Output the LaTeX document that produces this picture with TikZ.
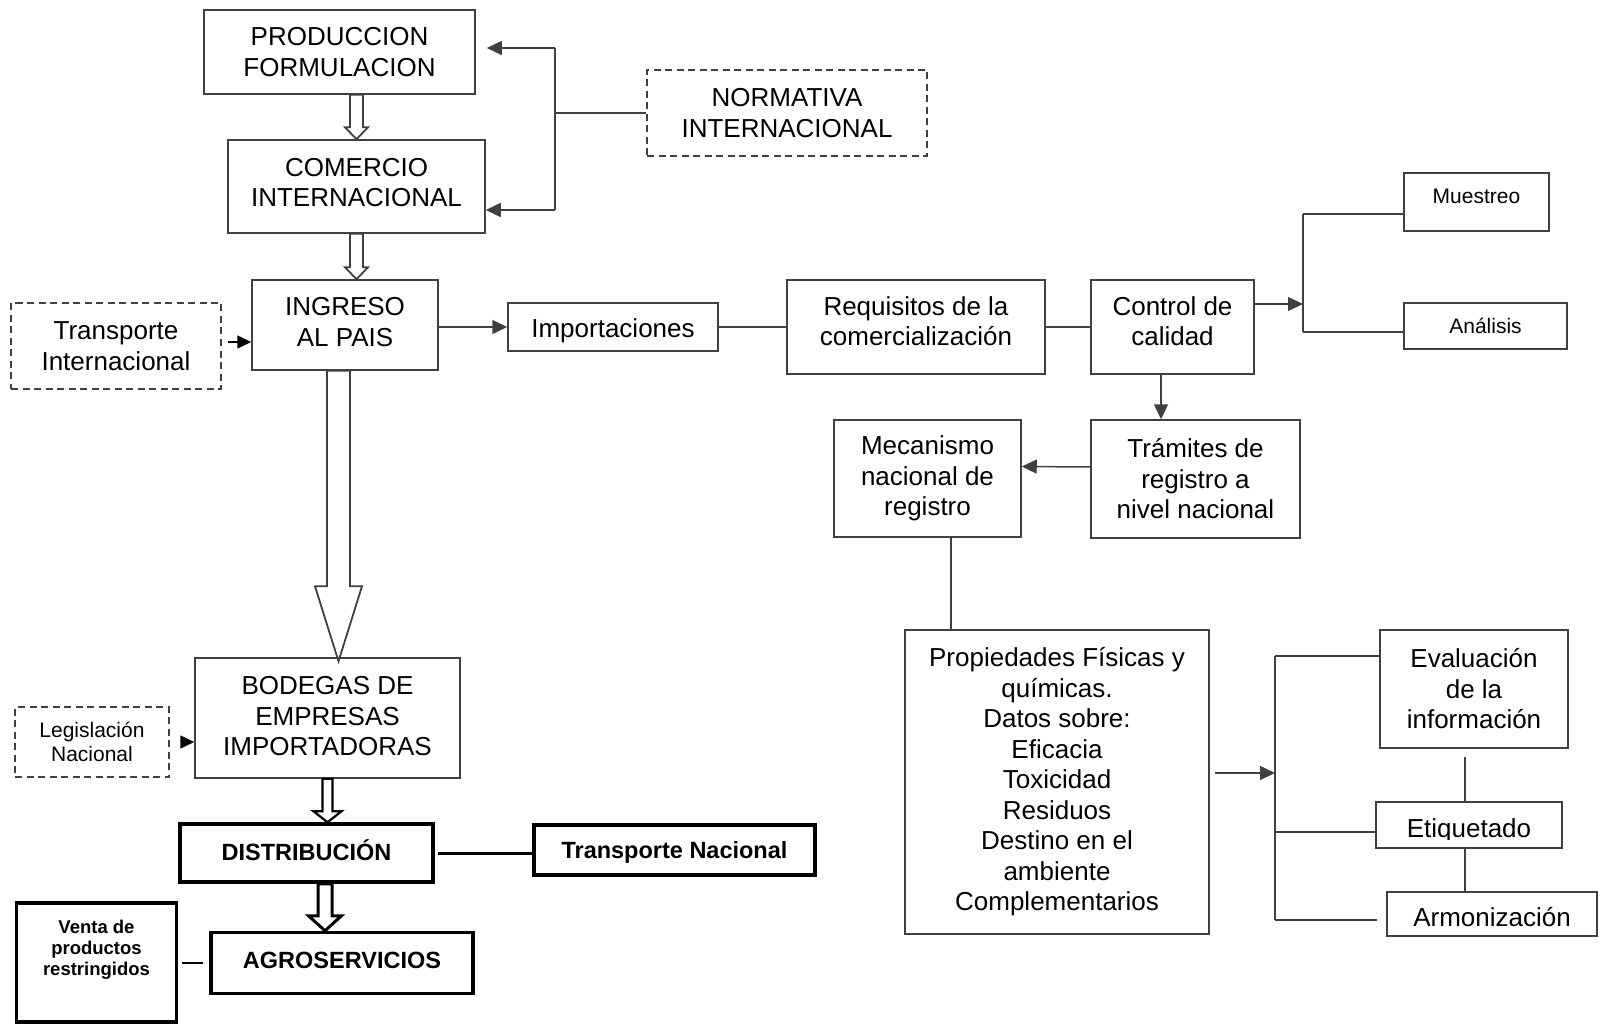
\documentclass[tikz,border=0pt]{standalone}
\usepackage{fontspec}
\setmainfont{Liberation Sans}
\usetikzlibrary{arrows.meta,calc}

\definecolor{ink}{HTML}{404040}

\newcommand\szmain{\fontsize{26}{30.5}\selectfont}
\newcommand\szsmall{\fontsize{21}{24}\selectfont}
\newcommand\szbold{\fontsize{23.5}{28}\selectfont\bfseries}
\newcommand\sztiny{\fontsize{18.5}{21}\selectfont\bfseries}

% hollow block arrow pointing down: style, top point, tip point,
% shaft half-width, head half-width, head length
\newcommand\hollowdown[6]{%
  \draw[#1] let \p1=(#2), \p2=(#3) in
    (\x1-#4,\y1) -- (\x1+#4,\y1) -- (\x1+#4,\y2+#6) -- (\x1+#5,\y2+#6)
    -- (\x1,\y2) -- (\x1-#5,\y2+#6) -- (\x1-#4,\y2+#6) -- cycle;}

\tikzset{
  box/.style={draw=ink, line width=1.5pt, fill=white, inner sep=0pt,
    align=center, font=\szmain},
  smallbox/.style={box, font=\szsmall},
  dbox/.style={box, dash pattern=on 7pt off 4.5pt},
  boldbox/.style={draw=black, line width=3.5pt, fill=white, inner sep=0pt,
    align=center, font=\szbold},
  ln/.style={draw=ink, line width=1.5pt},
  arr/.style={draw=ink, line width=1.5pt, -{Triangle[length=15pt,width=14pt]}},
  arrk/.style={draw=black, line width=1.5pt, -{Triangle[length=14pt,width=13pt]}},
  hol/.style={draw=ink, line width=1.8pt, fill=white, line join=miter},
  holk/.style={draw=black, line width=2.2pt, fill=white, line join=miter},
  holkk/.style={draw=black, line width=3pt, fill=white, line join=miter},
}

\begin{document}
\begin{tikzpicture}[x=1pt, y=-1pt]
\useasboundingbox[fill=white] (0,0) rectangle (1601,1024);

% ---- left column ----
\node[box, minimum width=271pt, minimum height=84pt] (prod) at (339.5,52) {PRODUCCION\\FORMULACION};
\node[box, minimum width=257pt, minimum height=93pt] (com) at (356.5,186.5) {COMERCIO\\INTERNACIONAL\\[-22.5pt]\mbox{}};
\node[box, minimum width=186pt, minimum height=90pt] (ingreso) at (345,325) {INGRESO\\AL PAIS\\[-24.5pt]\mbox{}};
\node[dbox, minimum width=280pt, minimum height=86pt] (norm) at (787,113) {NORMATIVA\\INTERNACIONAL};
\node[dbox, minimum width=210pt, minimum height=86pt] (trans) at (116,346) {Transporte\\Internacional};
\node[box, minimum width=265pt, minimum height=120pt] (bod) at (327.5,718) {BODEGAS DE\\EMPRESAS\\IMPORTADORAS\\[-26.5pt]\mbox{}};
\node[dbox, font=\szsmall, minimum width=154pt, minimum height=70pt] (leg) at (92,742) {Legislación\\Nacional};
\node[boldbox, minimum width=253pt, minimum height=58pt, text depth=6pt] (dist) at (306.5,853) {DISTRIBUCIÓN};
\node[boldbox, minimum width=281pt, minimum height=50pt, text height=21.5pt] (tnac) at (674.5,850) {Transporte Nacional};
\node[boldbox, minimum width=262pt, minimum height=61pt, text depth=6pt] (agro) at (342,963) {AGROSERVICIOS};
\node[boldbox, font=\sztiny, minimum width=160pt, minimum height=119pt] (venta) at (96.5,962.5) {Venta de\\productos\\restringidos\\[9pt]\mbox{}};

% ---- middle row ----
\node[box, minimum width=210pt, minimum height=48pt, text height=27pt] (imp) at (613,327) {Importaciones};
\node[box, minimum width=258pt, minimum height=94pt] (req) at (916,327) {Requisitos de la\\comercialización\\[-18.5pt]\mbox{}};
\node[box, minimum width=163pt, minimum height=94pt] (ctrl) at (1172.5,327) {Control de\\calidad\\[-18.5pt]\mbox{}};
\node[smallbox, minimum width=145pt, minimum height=58pt, text depth=12pt] (mues) at (1476.5,202) {Muestreo};
\node[smallbox, minimum width=163pt, minimum height=46pt] (ana) at (1485.5,326) {Análisis};
\node[box, minimum width=187pt, minimum height=117pt] (mec) at (927.5,478.5) {Mecanismo\\nacional de\\registro};
\node[box, minimum width=209pt, minimum height=118pt] (tram) at (1195.5,479) {Trámites de\\registro a\\nivel nacional};

% ---- lower right ----
\node[box, minimum width=304pt, minimum height=304pt] (prop) at (1057,782)
  {Propiedades Físicas y\\químicas.\\Datos sobre:\\Eficacia\\Toxicidad\\Residuos\\Destino en el\\ambiente\\Complementarios};
\node[box, minimum width=188pt, minimum height=118pt] (eval) at (1474,689) {Evaluación\\de la\\información};
\node[box, minimum width=186pt, minimum height=46pt,
  path picture={
    \clip (path picture bounding box.north west) rectangle ([yshift=8.5pt]path picture bounding box.south east);
    \node[anchor=base, font=\szmain, inner sep=0pt] (etiqtxt) at ([yshift=11pt]path picture bounding box.south) {Etiquetado};
  }] (etiq) at (1469,825) {};
\node[box, minimum width=210pt, minimum height=44pt, text height=25.5pt] (arm) at (1492,914) {Armonización};

% ---- junction points ----
\coordinate (ntop) at (555,48);
\coordinate (nbot) at (555,210);
\coordinate (qa) at (1303,304);
\coordinate (qt) at (1303,214);
\coordinate (qb) at (1303,332);
\coordinate (ra) at (1275,773);
\coordinate (rt) at (1275,656);
\coordinate (rm) at (1275,832);
\coordinate (rb) at (1275,920);
\coordinate (rx) at (1377,0);

% ---- connectors ----
\draw[ln] (norm.west) -- (norm.west -| ntop);
\draw[ln] (ntop) -- (nbot);
\draw[arr] (ntop) -- ([xshift=11pt]prod.east |- ntop);
\draw[arr] (nbot) -- (com.east |- nbot);

\draw[arrk] ([xshift=6pt,yshift=4pt]trans.east) -- ([yshift=4pt]ingreso.west |- trans.east);
\draw[arr] (ingreso.east |- imp.west) -- (imp.west);
\draw[ln] (imp.east) -- (req.west);
\draw[ln] (req.east) -- (ctrl.west);

\draw[arr] (ctrl.east |- qa) -- (qa);
\draw[ln] (qt) -- (qb);
\draw[ln] (qt) -- (mues.west |- qt);
\draw[ln] (qb) -- (ana.west |- qb);

\draw[arr] ([xshift=-11.5pt]ctrl.south) -- ([xshift=-11.5pt]ctrl.south |- tram.north);
\draw[arr] ([yshift=12pt]tram.west) -- ([yshift=12pt]mec.east);
\draw[ln] ([xshift=23.5pt]mec.south) -- ([xshift=23.5pt]mec.south |- prop.north);

\draw[arr] ([xshift=5pt]prop.east |- ra) -- (ra);
\draw[ln] (rt) -- (rb);
\draw[ln] (rt) -- (eval.west |- rt);
\draw[ln] (rm) -- (etiq.west |- rm);
\draw[ln] (rb) -- (rx |- rb);
\draw[ln] ([xshift=-9pt,yshift=-8pt]eval.south) -- ([xshift=-9pt]eval.south |- etiq.north);
\draw[ln] ([xshift=-4pt,yshift=2pt]etiq.south) -- ([xshift=-4pt]etiq.south |- arm.north);

\draw[arrk] ([xshift=11pt]leg.east) -- (bod.west |- leg.east);
\draw[draw=black, line width=3pt] ([xshift=3pt]dist.east) -- (tnac.west |- dist.east);
\draw[draw=black, line width=1.5pt] ([xshift=4pt]venta.east |- agro.west) -- ([xshift=-6pt]agro.west);

% ---- hollow block arrows ----
\coordinate (bigtop) at ([xshift=-6.5pt]ingreso.south);
\coordinate (bigtip) at ([yshift=-4pt]bigtop |- bod.north);
\hollowdown{hol}{prod.south -| com.north}{com.north}{6.5pt}{11.5pt}{12pt}
\hollowdown{hol}{com.south}{com.south |- ingreso.north}{6.5pt}{11.5pt}{12pt}
\hollowdown{hol}{bigtop}{bigtip}{11.5pt}{23.5pt}{75pt}
\hollowdown{holk}{bod.south}{bod.south |- dist.north}{5pt}{14pt}{11pt}
\hollowdown{holkk}{[xshift=18.5pt]dist.south}{[xshift=18.5pt]dist.south |- agro.north}{7pt}{16.5pt}{15pt}
\end{tikzpicture}
\end{document}
